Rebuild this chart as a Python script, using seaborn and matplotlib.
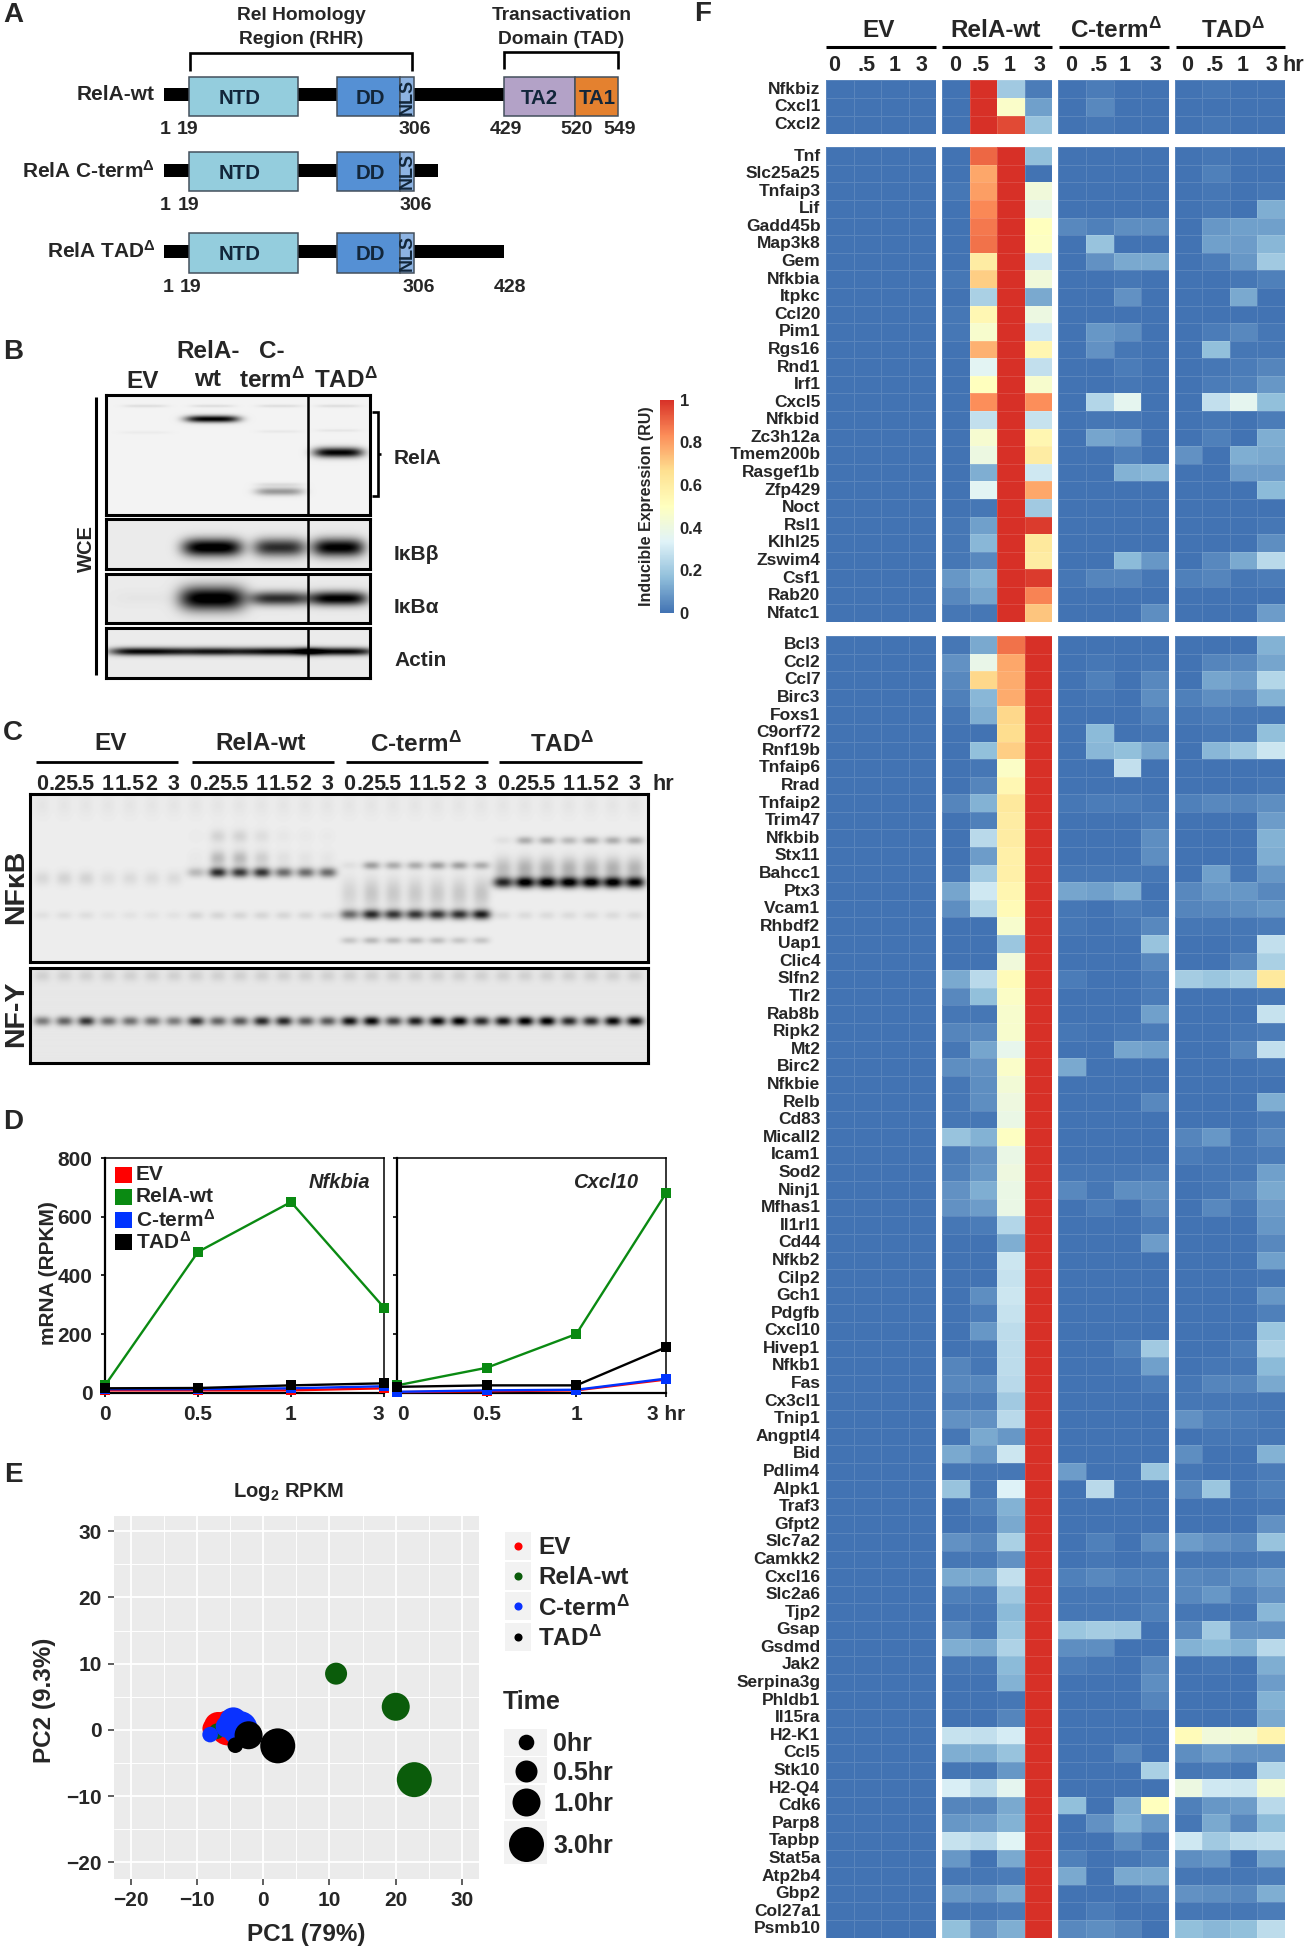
import numpy as np
import pandas as pd
import matplotlib
matplotlib.use("Agg")
import matplotlib.pyplot as plt
import seaborn as sns
from matplotlib.colors import LinearSegmentedColormap
from matplotlib.patches import Rectangle

W, H = 1308, 1950

Z = [0, 0, 0, 0]

genes_top = ["Nfkbiz", "Cxcl1", "Cxcl2"]
genes_mid = ["Tnf", "Slc25a25", "Tnfaip3", "Lif", "Gadd45b", "Map3k8", "Gem", "Nfkbia", "Itpkc", "Ccl20", "Pim1",
             "Rgs16", "Rnd1", "Irf1", "Cxcl5", "Nfkbid", "Zc3h12a", "Tmem200b", "Rasgef1b", "Zfp429", "Noct", "Rsl1",
             "Klhl25", "Zswim4", "Csf1", "Rab20", "Nfatc1"]
genes_low = ["Bcl3", "Ccl2", "Ccl7", "Birc3", "Foxs1", "C9orf72", "Rnf19b", "Tnfaip6", "Rrad", "Tnfaip2", "Trim47",
             "Nfkbib", "Stx11", "Bahcc1", "Ptx3", "Vcam1", "Rhbdf2", "Uap1", "Clic4", "Slfn2", "Tlr2", "Rab8b",
             "Ripk2", "Mt2", "Birc2", "Nfkbie", "Relb", "Cd83", "Micall2", "Icam1", "Sod2", "Ninj1", "Mfhas1",
             "Il1rl1", "Cd44", "Nfkb2", "Cilp2", "Gch1", "Pdgfb", "Cxcl10", "Hivep1", "Nfkb1", "Fas", "Cx3cl1",
             "Tnip1", "Angptl4", "Bid", "Pdlim4", "Alpk1", "Traf3", "Gfpt2", "Slc7a2", "Camkk2", "Cxcl16", "Slc2a6",
             "Tjp2", "Gsap", "Gsdmd", "Jak2", "Serpina3g", "Phldb1", "Il15ra", "H2-K1", "Ccl5", "Stk10", "H2-Q4",
             "Cdk6", "Parp8", "Tapbp", "Stat5a", "Atp2b4", "Gbp2", "Col27a1", "Psmb10"]

rela_top = [[0, 1, .2, .02], [0, 1, .47, .1], [0, 1, .95, .18]]
cterm_top = [[0, .02, 0, 0], [0, .05, 0, 0], [0, .01, 0, 0]]
tad_top = [[0, .01, 0, 0], Z, [0, .01, 0, 0]]

rela_mid = [[0, .9, 1, .17], [0, .78, 1, 0], [.01, .8, 1, .42], [0, .84, 1, .38], [0, .87, 1, .5], [0, .88, 1, .49],
            [0, .6, 1, .29], [.01, .7, 1, .42], [0, .22, 1, .12], [.01, .54, 1, .4], [.01, .46, 1, .3],
            [0, .76, 1, .55], [0, .35, 1, .27], [0, .5, 1, .46], [0, .83, 1, .83], [0, .27, 1, .28],
            [0, .45, 1, .55], [0, .4, 1, .6], [0, .13, 1, .3], [0, .35, 1, .78], [0, .01, 1, .2], [.01, .1, 1, .98],
            [.01, .15, 1, .62], [.01, .05, 1, .6], [.08, .14, 1, .98], [.05, .11, 1, .85], [.01, .01, 1, .72]]
cterm_mid = [Z, Z, Z, Z, [.05, .03, .06, .06], [0, .18, 0, 0], [0, .07, .12, .12], [0, 0, .01, 0], [0, 0, .07, 0], Z,
             [0, .08, .06, 0], [0, .07, .01, 0], [0, 0, .02, 0], [0, 0, .01, 0], [0, .24, .36, 0], [0, .01, .01, 0],
             [0, .11, .09, 0], [0, 0, .03, 0], [0, 0, .14, .15], Z, Z, Z, Z, [0, 0, .16, .08], [.01, .04, .04, .01],
             Z, [0, 0, 0, .06]]
tad_mid = [[0, .01, 0, 0], [0, .03, 0, 0], [0, .01, 0, .01], [0, .01, 0, .13], [0, .08, .1, .1], [0, .1, .09, .15],
           [0, .02, .08, .2], [0, 0, .01, .03], [0, 0, .12, 0], Z, [0, .02, .05, .01], [0, .17, .01, .01],
           [0, .01, .02, .04], [0, .02, .03, .08], [0, .27, .36, .17], [0, .01, 0, .02], [0, .03, 0, .13],
           [.07, 0, .13, .12], [0, 0, .09, .09], [0, 0, 0, .16], Z, [0, 0, 0, .01], [0, 0, 0, .06],
           [0, .05, .12, .25], [.03, .04, .01, .02], Z, [0, 0, 0, .09]]

rela_low = [[.01, .12, .88, 1], [.07, .38, .78, 1], [.05, .68, .77, 1], [.03, .15, .77, 1], [.01, .13, .68, 1],
            [0, 0, .67, 1], [0, .17, .7, 1], [0, .01, .48, 1], [0, .04, .54, 1], [.04, .14, .62, 1], [0, .03, .6, 1],
            [0, .25, .6, 1], [0, .09, .58, 1], [.01, .2, .58, 1], [.11, .3, .55, 1], [.06, .24, .53, 1],
            [0, 0, .46, 1], [0, 0, .19, 1], [0, 0, .42, 1], [.12, .25, .52, 1], [.05, .17, .48, 1], [.01, .01, .46, 1],
            [.04, .05, .46, 1], [.01, .11, .37, 1], [.06, .07, .47, 1], [.01, .06, .43, 1], [.01, .06, .41, 1],
            [.01, .01, .39, 1], [.18, .14, .49, 1], [.02, .07, .39, 1], [.03, .08, .41, 1], [.07, .13, .39, 1],
            [.07, .09, .39, 1], [.01, .02, .24, 1], [0, 0, .13, 1], [0, 0, .29, 1], [0, 0, .28, 1], [0, .06, .29, 1],
            [0, .02, .28, 1], [0, .08, .26, 1], [0, .01, .26, 1], [.04, .01, .26, 1], [.05, .05, .25, 1],
            [.02, .02, .2, 1], [.07, .07, .25, 1], [.01, .12, .08, 1], [.12, .08, .29, 1], [.01, .01, .01, 1],
            [.18, .01, .33, 1], [0, .03, .14, 1], [0, .01, .12, 1], [.07, .04, .22, 1], [.01, .01, .07, 1],
            [.12, .12, .27, 1], [.03, .02, .2, 1], [.01, .01, .16, 1], [.05, .01, .19, 1], [.13, .12, .23, 1],
            [.01, .01, .16, 1], [0, 0, .14, 1], [0, 0, .01, 1], [0, 0, .04, 1], [.28, .27, .31, 1], [.13, .13, .18, 1],
            [.01, .01, .08, 1], [.32, .26, .36, 1], [.04, .04, .12, 1], [.08, .09, .14, 1], [.28, .25, .34, 1],
            [.08, 0, .12, 1], [.01, .01, .02, 1], [.08, .07, .12, 1], [.01, .01, .02, 1], [.17, .07, .13, 1]]
cterm_low = [Z, [0, .01, 0, .01], [0, .03, 0, .05], [0, .01, 0, .06], [0, 0, 0, .03], [0, .16, 0, .01],
             [0, .15, .17, .11], [0, 0, .27, 0], Z, [.01, .02, .02, .01], [0, 0, 0, .02], [0, 0, 0, .06],
             [0, 0, 0, .06], [.01, .01, .01, .01], [.11, .1, .13, 0], [.01, 0, .02, .01], [.01, 0, .01, .05],
             [0, 0, 0, .18], [0, 0, 0, .05], [.02, 0, 0, .02], [0, 0, 0, .02], [0, 0, 0, .1], [.01, 0, .01, .02],
             [0, 0, .11, .1], [.12, 0, 0, 0], Z, [0, 0, 0, .05], Z, Z, Z, [.01, .01, .01, .02], [.05, .01, .06, .06],
             [0, .02, 0, .05], [0, 0, 0, .02], [0, 0, 0, .09], Z, Z, Z, Z, Z, [0, 0, .03, .2], [0, 0, .01, .1],
             [0, 0, 0, .02], Z, Z, Z, Z, [.09, 0, 0, .19], [0, .25, 0, 0], Z, Z, [0, .03, 0, .06], [0, .01, 0, .01],
             [.03, .05, .03, .03], [.01, .01, .01, .02], [.01, .01, .01, .03], [.19, .21, .2, 0], [.06, .06, 0, 0],
             [.02, .01, 0, .05], [0, 0, 0, .06], [0, 0, 0, .04], Z, Z, [0, 0, .04, 0], [0, 0, 0, .22], Z,
             [.17, 0, .12, .5], [0, .07, .14, .08], [0, 0, .06, .01], [.03, 0, .01, .03], [.12, 0, .12, .12],
             [0, 0, 0, .02], [0, .02, 0, 0], [.05, .06, .04, 0]]
tad_low = [[0, 0, 0, .14], [0, .04, .05, .11], [0, .11, .09, .24], [.03, .06, .05, .14], [.01, .02, .01, .01],
           [0, .01, .01, .17], [0, .15, .2, .29], Z, [0, 0, 0, .01], [.03, .05, .04, .06], [0, 0, 0, .09],
           [0, 0, 0, .14], [0, 0, 0, .13], [0, .1, .01, .08], [.05, .08, .08, .05], [.04, .05, .06, .08],
           [.01, .01, .01, .02], [0, 0, .01, .27], [0, 0, .04, .22], [.21, .19, .22, .62], [0, 0, 0, .01],
           [0, 0, 0, .28], [0, 0, .01, .02], [0, 0, .04, .27], [0, 0, 0, .01], Z, [0, 0, 0, .13], [0, 0, 0, .02],
           [.04, .08, .01, .05], [.02, .01, .01, .02], [0, .01, .01, .1], [0, .01, .04, .12], [0, .05, .01, .09],
           [0, 0, 0, .08], [0, 0, 0, .05], [0, 0, 0, .1], [0, 0, 0, .01], [0, 0, 0, .08], [0, 0, 0, .03],
           [0, 0, 0, .19], [0, 0, .02, .23], [0, .01, .01, .16], [.01, .04, .04, .12], [.01, .01, .01, .01],
           [.07, .03, .02, .01], [0, .01, .01, .01], [.06, 0, 0, .14], [.01, 0, 0, .02], [.05, .19, .01, .03],
           [0, 0, 0, .01], [0, 0, 0, .07], [.09, .07, .05, .18], [.01, .01, .01, .02], [.05, .04, .06, .09],
           [.05, .08, .03, .07], [.01, .01, .01, .15], [.05, .2, .07, .07], [.14, .16, .14, .25], [0, .01, 0, .13],
           [0, 0, 0, .09], [0, 0, 0, .14], [0, 0, 0, .12], [.52, .42, .43, .56], [.06, .09, .07, .07],
           [.01, .02, .01, .24], [.4, .3, .29, .44], [.03, .08, .09, .25], [.01, .12, .05, .16], [.3, .2, .26, .27],
           [.06, .08, 0, .11], [.01, .01, .01, .02], [.07, .06, .05, .13], [.01, .01, .01, .02], [.17, .15, .17, .26]]

# panel D, RPKM at the four time points
time_labels = ["0", "0.5", "1", "3"]
groups = ["EV", "RelA-wt", r"C-term$^{\Delta}$", r"TAD$^{\Delta}$"]
nfkbia_vals = [[8, 8, 8, 15], [25, 480, 650, 290], [12, 12, 15, 22], [15, 16, 25, 32]]
cxcl10_vals = [[2, 5, 8, 45], [25, 85, 200, 680], [3, 8, 10, 48], [20, 25, 25, 155]]
line_colors = ["#ff0000", "#0a8a12", "#0033ff", "#000000"]

# panel E
pc1_vals = [-7.8, -7.5, -6.8, -5.3, -7, 11, 20, 22.8, -8, -5.5, -4.5, -3.5, -4.2, -2.5, -2.2, 2.2]
pc2_vals = [-.3, .2, .6, .3, -.2, 8.5, 3.5, -7.5, -.7, .5, 1.3, .2, -2.3, -.9, -.8, -2.4]
pca_groups = ["EV"] * 4 + ["RelA-wt"] * 4 + ["C-term"] * 4 + ["TAD"] * 4
pca_times = ["0hr", "0.5hr", "1.0hr", "3.0hr"] * 4
pca_colors = {"EV": "#ff0000", "RelA-wt": "#0b5c0b", "C-term": "#0a32ff", "TAD": "#000000"}
pca_sizes = {"0hr": 126, "0.5hr": 251, "1.0hr": 406, "3.0hr": 635}

# gel band strengths, one per lane
gel_ev = [.08, .1, .1, .06, .07, .07, .07]
gel_wt = [.2, .75, .7, .72, .5, .5, .5]
gel_wt_up = [.02, .2, .2, .12, .05, .04, .03]
gel_c = [.5, .75, .7, .7, .7, .72, .8]
gel_c_low = [.15, .2, .2, .2, .18, .15, .15]
gel_c_up = [.05, .3, .25, .25, .3, .3, .25]
gel_tad = [.75, .95, .95, .95, .95, .95, .9]
gel_tad_up = [.05, .25, .25, .2, .25, .25, .25]
nfy_ev = [.45, .55, .75, .5, .5, .5, .45]
nfy_wt = [.75, .55, .6, .8, .8, .6, .6]
nfy_c = [.9, .95, .7, .85, .95, 1, .8]
nfy_tad = [.9, 1, 1, .8, .8, .95, .95]

# western blot strengths: EV, RelA-wt, C-term, TAD
ikbb_vals = [0, 1, .75, .95]
ikba_vals = [.02, 1, .75, .95]
actin_vals = [.9, .85, .9, .9]

sns.set_style("white")
plt.rcParams['font.family'] = ['Liberation Sans', 'DejaVu Sans']
plt.rcParams['font.weight'] = 'bold'
plt.rcParams['axes.labelweight'] = 'bold'
plt.rcParams['mathtext.fontset'] = 'custom'
plt.rcParams['mathtext.bf'] = 'Liberation Sans:bold'
plt.rcParams['mathtext.rm'] = 'Liberation Sans'
plt.rcParams['mathtext.default'] = 'bf'

fig = plt.figure(figsize=(W / 100, H / 100), dpi=100, facecolor="white")


def px_axes(x0, y0, x1, y1):
    return fig.add_axes([x0 / W, 1 - y1 / H, (x1 - x0) / W, (y1 - y0) / H])


def gel(box, bands, bg, lw=2.2, px=2.5, py=2):
    x0, y0, x1, y1 = box
    xx, yy = np.meshgrid(np.arange(x0, x1), np.arange(y0, y1))
    img = np.full(xx.shape, bg, dtype=float)
    for xc, yc, amp, wx, wy in bands:
        img -= amp * np.exp(-(np.abs(xx - xc) / wx) ** px) * np.exp(-(np.abs(yy - yc) / wy) ** py)
    ax = px_axes(x0, y0, x1, y1)
    ax.imshow(np.clip(img, 0, 1), cmap="gray", vmin=0, vmax=1, aspect="auto")
    ax.set_xticks([])
    ax.set_yticks([])
    for s in ax.spines.values():
        s.set_visible(True)
        s.set_linewidth(lw)
        s.set_color("black")
    return ax


# F: heatmaps
cmap = LinearSegmentedColormap.from_list(
    "ru", ["#4273b3", "#91bfdb", "#e0f3f8", "#ffffbf", "#fee090", "#fc8d59", "#d73027"])
col_x = [(826, 936), (942, 1052), (1058, 1169), (1174.5, 1285)]
row_y = [(80.4, 133.5), (147.3, 622), (636, 1937.6)]
rows = [
    (genes_top, rela_top, cterm_top, tad_top),
    (genes_mid, rela_mid, cterm_mid, tad_mid),
    (genes_low, rela_low, cterm_low, tad_low),
]
cbar_ax = px_axes(659.5, 399.5, 674, 613)
for g, (names, rela, cterm, tad) in enumerate(rows):
    blocks = [[Z] * len(names), rela, cterm, tad]
    for c, block in enumerate(blocks):
        ax = px_axes(col_x[c][0], row_y[g][0], col_x[c][1], row_y[g][1])
        sns.heatmap(np.array(block), ax=ax, cmap=cmap, vmin=0, vmax=1,
                    cbar=(g == 0 and c == 0), cbar_ax=cbar_ax if (g == 0 and c == 0) else None,
                    xticklabels=False, yticklabels=names if c == 0 else False,
                    linewidths=.5, linecolor=(1, 1, 1, .13))
        ax.tick_params(axis="y", length=0, pad=4, labelsize=12.5, rotation=0)

cbar_ax.set_yticks([0, .2, .4, .6, .8, 1])
cbar_ax.set_yticklabels(["0", "0.2", "0.4", "0.6", "0.8", "1"], fontsize=12)
cbar_ax.tick_params(length=0, pad=4)
for s in cbar_ax.spines.values():
    s.set_visible(False)

# D: line plots
d_frames = []
for vals in [nfkbia_vals, cxcl10_vals]:
    d_frames.append(pd.DataFrame({
        "pos": [p for _ in groups for p in range(4)],
        "rpkm": [v for row in vals for v in row],
        "group": [g for g in groups for _ in range(4)],
    }))
d_boxes = [(105, 1158, 384, 1392.7), (397, 1158, 666, 1392.7)]
for i, frame in enumerate(d_frames):
    ax = px_axes(*d_boxes[i])
    sns.lineplot(data=frame, x="pos", y="rpkm", hue="group", palette=line_colors, marker="s", markersize=6.5,
                 markeredgewidth=0, linewidth=1.7, legend=False, ax=ax, clip_on=False, zorder=3)
    ax.set_xlim(0, 3)
    ax.set_ylim(0, 800)
    ax.set_xlabel("")
    ax.set_ylabel("")
    ax.set_xticks(range(4))
    ax.set_yticks([0, 200, 400, 600, 800])
    if i == 0:
        ax.set_xticklabels(time_labels, fontsize=15)
        ax.get_xticklabels()[-1].set_ha("right")
        ax.set_yticklabels(["0", "200", "400", "600", "800"], fontsize=15)
    else:
        ax.set_xticklabels(["0", "0.5", "1", "3 hr"], fontsize=15)
        ax.get_xticklabels()[0].set_ha("left")
        ax.set_yticklabels([])
    ax.tick_params(left=True, bottom=True, direction="out", length=3, width=1.2, color="black", pad=6)
    for s in ax.spines.values():
        s.set_visible(True)
        s.set_color("black")
        s.set_linewidth(1.1)
    ax.spines["bottom"].set_linewidth(1.6)
    ax.spines["left"].set_linewidth(1.6)

# E: PCA
pca = pd.DataFrame({"pc1": pc1_vals, "pc2": pc2_vals, "group": pca_groups, "time": pca_times})
ax = px_axes(114, 1516, 478.6, 1879)
ax.set_facecolor("#ebebeb")
sns.scatterplot(data=pca, x="pc1", y="pc2", hue="group", palette=pca_colors, size="time", sizes=pca_sizes,
                linewidth=0, legend=False, ax=ax, zorder=3)
ax.set_xlim(-22.5, 32.5)
ax.set_ylim(-22.5, 32.3)
ax.set_xticks([-20, -10, 0, 10, 20, 30])
ax.set_yticks([-20, -10, 0, 10, 20, 30])
ax.set_xticks([-15, -5, 5, 15, 25], minor=True)
ax.set_yticks([-15, -5, 5, 15, 25], minor=True)
ax.grid(which="major", color="white", linewidth=1.3)
ax.grid(which="minor", color="white", linewidth=.7)
ax.set_axisbelow(True)
ax.tick_params(which="major", left=True, bottom=True, length=4, width=1.1, color="#333333", labelsize=15, pad=5)
ax.tick_params(which="minor", length=0)
ax.set_xlabel("")
ax.set_ylabel("")
for s in ax.spines.values():
    s.set_visible(False)

# B: western blots
lane_x = [145, 212, 279, 338]
lane_w = [26, 28, 24, 24]
top_bands = [(x, 405.5, .08, 22, 1.5) for x in lane_x] + [
    (212, 418.5, .95, 27, 3.5), (338, 452, .95, 25, 5), (279, 491, .35, 24, 4), (279, 484, .08, 24, 2),
    (338, 430, .05, 22, 1.5), (145, 432, .03, 25, 1.5), (279, 431, .04, 22, 1.5)]
gel((106, 395, 370, 515), top_bands, .95, px=4, py=2)
gel((106, 519, 370, 569), [(lane_x[k], 547, ikbb_vals[k], lane_w[k] + 2, 9) for k in range(4)], .92, px=4)
gel((106, 574, 370, 623), [(lane_x[k], 598, ikba_vals[k], lane_w[k] + 5, 7 + 5 * (k == 1)) for k in range(4)], .92, px=4)
gel((106, 628, 370, 678), [(lane_x[k], 651, actin_vals[k], 36, 4) for k in range(4)], .92, px=4)

# C: gels
lanes = [42 + 21.94 * i for i in range(28)]
nfkb_bands = []
for i in range(7):
    nfkb_bands += [(lanes[i], 878, gel_ev[i], 8, 7), (lanes[i], 915, gel_ev[i] * .6, 8, 4), (lanes[i], 805, .03, 8, 12)]
    x = lanes[7 + i]
    nfkb_bands += [(x, 872, gel_wt[i], 9, 5), (x, 858, gel_wt_up[i], 8, 8), (x, 836, gel_wt_up[i] * .5, 8, 7),
                   (x, 915, .09, 8, 4), (x, 805, .03, 8, 12)]
    x = lanes[14 + i]
    nfkb_bands += [(x, 914, gel_c[i], 9.5, 5), (x, 893, gel_c[i] * .2, 8.5, 15), (x, 940, gel_c_low[i], 8.5, 3.5),
                   (x, 865, gel_c_up[i], 8.5, 4), (x, 805, .03, 8, 12)]
    x = lanes[21 + i]
    nfkb_bands += [(x, 882, gel_tad[i], 10, 5.5), (x, 868, gel_tad[i] * .25, 9, 11), (x, 840, gel_tad_up[i], 8.5, 4),
                   (x, 915, .07, 8, 4), (x, 805, .03, 8, 12)]
gel((30, 794, 648, 962), nfkb_bands, .93)
nfy_all = nfy_ev + nfy_wt + nfy_c + nfy_tad
nfy_bands = [(lanes[i], 1021, nfy_all[i] * .95, 8.5, 4.5) for i in range(28)]
nfy_bands += [(lanes[i], 976, .09, 8, 6) for i in range(28)]
gel((30, 968, 648, 1063), nfy_bands, .91)

# overlay for schematic and labels, pixel units
pix = fig.add_axes([0, 0, 1, 1], zorder=20)
pix.set_xlim(0, W)
pix.set_ylim(H, 0)
pix.axis("off")
pix.patch.set_alpha(0)


def label(x, y, s, size=15, ha="center", rot=0, **kw):
    pix.text(x, y + 2, s, fontsize=size, ha=ha, va="center", rotation=rot, fontweight=kw.pop("weight", "bold"), **kw)


def line(xs, ys, lw=2.0, color="black"):
    pix.plot(xs, ys, color=color, lw=lw, solid_capstyle="butt", solid_joinstyle="miter")


for x, y, s in [(13, 13, "A"), (13, 350, "B"), (13, 731, "C"), (13, 1120, "D"), (13, 1473, "E"), (703, 12, "F")]:
    label(x, y, s, size=20)

# A
navy = "#12263a"
schematic = [
    ("RelA-wt", 92, 94.3, 505, 77, 116, [(165, "1"), (188, "19"), (415, "306"), (506, "429"), (577, "520"), (620, "549")], 128),
    (r"RelA C-term$^{\Delta}$", 169, 170, 438, 151.7, 191, [(165.6, "1"), (188.6, "19"), (416, "306")], 204),
    (r"RelA TAD$^{\Delta}$", 249, 251.7, 503.5, 232.7, 272.7, [(168, "1"), (191, "19"), (418.5, "306"), (509.5, "428")], 285),
]
for name, ny, by, bx, y0, y1, nums, numy in schematic:
    label(155, ny, name, size=15, ha="right")
    pix.add_patch(Rectangle((164, by - 6.5), bx - 164, 13, color="black", lw=0))
    for x0, x1, col in [(189, 298, "#94cddd"), (337.4, 400, "#5590d4"), (400, 414, "#8db3e2")]:
        pix.add_patch(Rectangle((x0, y0), x1 - x0, y1 - y0, fc=col, ec="#44505c", lw=1.1))
    label(240, (y0 + y1) / 2, "NTD", size=14.7, color=navy)
    label(370, (y0 + y1) / 2, "DD", size=14.7, color=navy)
    label(407, (y0 + y1) / 2 - 2, "NLS", size=13, rot=90, color=navy)
    for x, s in nums:
        label(x, numy, s, size=14)
pix.add_patch(Rectangle((504, 77), 71, 39, fc="#b3a2c7", ec="#44505c", lw=1.1))
pix.add_patch(Rectangle((575, 77), 43, 39, fc="#e4812f", ec="#44505c", lw=1.1))
label(539, 96, "TA2", size=14.7, color=navy)
label(597, 96, "TA1", size=14.7, color=navy)
line([189.5, 189.5, 412, 412], [70.7, 53, 53, 70.7], lw=1.9)
line([504, 504, 617.5, 617.5], [69, 52.3, 52.3, 69], lw=1.9)
label(301.4, 14, "Rel Homology", size=13.8)
label(301.4, 37.7, "Region (RHR)", size=13.8)
label(561.6, 14, "Transactivation", size=13.8)
label(561.6, 37.7, "Domain (TAD)", size=13.8)

# B labels
label(143, 380, "EV", size=17.5)
label(208, 350, "RelA-", size=17.5)
label(208, 378, "wt", size=17.5)
label(272, 350, "C-", size=17.5)
label(272, 378, r"term$^{\Delta}$", size=17.5)
label(346, 378, r"TAD$^{\Delta}$", size=17.5)
line([308, 308], [395, 515], lw=1.8)
line([308, 308], [519, 569], lw=1.8)
line([308, 308], [574, 623], lw=1.8)
line([308, 308], [628, 678], lw=1.8)
line([96.4, 96.4], [397, 675], lw=2.2)
label(86, 546, "WCE", size=14.5, rot=90)
line([372, 378, 378, 372], [412, 412, 496, 496], lw=1.9)
line([378, 381], [454, 454], lw=1.9)
for y, s in [(456, "RelA"), (553, "IκBβ"), (605.6, "IκBα"), (659, "Actin")]:
    label(394, y, s, size=15, ha="left")

# C labels
c_spans = [(36, 178), (192, 334), (346, 488), (499, 641.5)]
c_names = ["EV", "RelA-wt", r"C-term$^{\Delta}$", r"TAD$^{\Delta}$"]
c_centers = [111, 261, 416, 562]
lane_names = ["0", ".25", ".5", "1", "1.5", "2", "3"]
for k in range(4):
    label(c_centers[k], 742, c_names[k], size=17.5)
    line(list(c_spans[k]), [762, 762], lw=2.0)
    for j, s in enumerate(lane_names):
        label(lanes[k * 7 + j], 783, s, size=15.5)
label(652, 783, "hr", size=15.5, ha="left")
label(16, 885, "NFκB", size=20.5, rot=90)
label(16, 1012, "NF-Y", size=20.5, rot=90)

# D labels
for y, name, col in zip([1173, 1195, 1218, 1240], groups, line_colors):
    pix.add_patch(Rectangle((115, y - 6), 17, 16, color=col, lw=0))
    label(136, y, name, size=15, ha="left")
label(339, 1181, "Nfkbia", size=14.5, style="italic")
label(606, 1181, "Cxcl10", size=14.5, style="italic")
label(48, 1271, "mRNA (RPKM)", size=15, rot=90)

# E labels
label(288, 1490, "Log$_2$ RPKM", size=14.5)
label(306, 1932, "PC1 (79%)", size=17.5)
label(44, 1698, "PC2 (9.3%)", size=17.5, rot=90)
key_names = ["EV", "RelA-wt", r"C-term$^{\Delta}$", r"TAD$^{\Delta}$"]
key_colors = list(pca_colors.values())
for y, name, col in zip([1545.5, 1576, 1606, 1636.6], key_names, key_colors):
    pix.add_patch(Rectangle((504.5, y - 14), 26.5, 28, color="#f2f2f2", lw=0))
    pix.scatter([518], [y], s=34, color=col, lw=0, zorder=3)
    label(538, y, name, size=17.5, ha="left")
label(503, 1700, "Time", size=18, ha="left")
size_keys = [("0hr", 1742, 503.6, 547, 1729, 1756), ("0.5hr", 1770.5, 503.6, 547, 1757, 1783),
             ("1.0hr", 1802, 505, 545, 1784.5, 1819), ("3.0hr", 1843.6, 504, 547, 1821, 1864)]
for name, y, x0, x1, y0, y1 in size_keys:
    pix.add_patch(Rectangle((x0, y0), x1 - x0, y1 - y0, color="#f2f2f2", lw=0))
    pix.scatter([525.5], [y], s=pca_sizes[name], color="black", lw=0, zorder=3)
    label(553.5, y, name, size=18, ha="left")

# F labels
f_lines = [(826, 935.6), (942, 1052), (1059, 1169), (1176, 1285)]
f_centers = [879, 995.6, 1116, 1233]
f_names = ["EV", "RelA-wt", r"C-term$^{\Delta}$", r"TAD$^{\Delta}$"]
f_ticks = [[834, 867, 895, 921], [955, 980.6, 1010, 1039], [1071, 1099, 1125, 1155], [1187, 1215, 1243, 1271]]
f_tick_names = ["0", ".5", "1", "3"]
for k in range(4):
    label(f_centers[k], 28.6, f_names[k], size=17.5)
    line(list(f_lines[k]), [47, 47], lw=2.2)
    for x, s in zip(f_ticks[k], f_tick_names):
        label(x, 63.5, s, size=15.5)
label(1293, 63.5, "hr", size=15.5)
label(647, 504, "Inducible Expression (RU)", size=11.5, rot=90)

fig.savefig("out.png", dpi=100)
